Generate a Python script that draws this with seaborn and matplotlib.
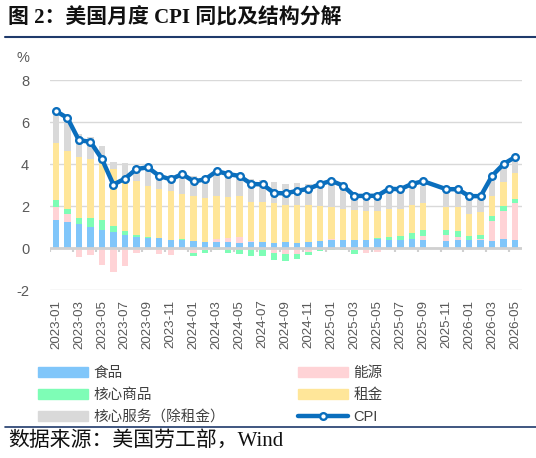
import matplotlib.pyplot as plt
import seaborn as sns
import numpy as np
import pandas as pd
from matplotlib.lines import Line2D
from matplotlib.patches import Patch


sns.set_style("white")
plt.rcParams['font.family'] = ['Liberation Sans', 'Noto Sans CJK SC', 'DejaVu Sans']
plt.rcParams['axes.unicode_minus'] = False

nan = np.nan

# 2023-01 .. 2026-05, 2025-10 missing
months = pd.period_range('2023-01', '2026-05', freq='M').strftime('%Y-%m').tolist()

food = [1.35, 1.25, 1.16, 1.01, 0.87, 0.78, 0.63, 0.54, 0.50, 0.46,
        0.40, 0.37, 0.33, 0.28, 0.30, 0.30, 0.25, 0.30, 0.30, 0.24,
        0.30, 0.24, 0.29, 0.35, 0.37, 0.37, 0.40, 0.37, 0.43, 0.40,
        0.40, 0.44, 0.40, nan, 0.35, 0.40, 0.40, 0.40, 0.35, 0.44, 0.40]
energy = [0.60, 0.38, -0.45, -0.35, -0.79, -1.16, -0.87, -0.25, -0.10, -0.28,
          -0.32, -0.10, -0.24, -0.10, 0.13, 0.20, 0.27, 0.05, 0.00, -0.24,
          -0.28, -0.30, -0.20, 0.00, 0.05, 0.00, -0.10, -0.25, -0.20, -0.08,
          -0.05, -0.03, 0.19, nan, 0.28, 0.12, -0.11, 0.04, 0.92, 1.34, 1.74]
core_goods = [0.35, 0.24, 0.28, 0.43, 0.48, 0.28, 0.20, 0.06, 0.02, 0.00,
              0.00, 0.06, -0.16, -0.14, -0.10, -0.24, -0.30, -0.37, -0.37, -0.35,
              -0.35, -0.20, -0.12, -0.16, -0.10, -0.10, -0.18, 0.03, 0.03, 0.12,
              0.19, 0.27, 0.28, nan, 0.24, 0.30, 0.19, 0.19, 0.24, 0.20, 0.21]
rent = [2.70, 2.76, 2.88, 2.80, 2.70, 2.72, 2.61, 2.57, 2.45, 2.35,
        2.30, 2.16, 2.16, 2.08, 2.06, 1.94, 1.97, 1.85, 1.90, 1.92,
        1.76, 1.82, 1.77, 1.63, 1.53, 1.47, 1.42, 1.38, 1.32, 1.35,
        1.28, 1.32, 1.27, nan, 1.06, 1.11, 1.04, 1.07, 0.98, 1.15, 1.22]
core_services = [1.35, 1.40, 1.11, 1.04, 0.82, 0.33, 0.62, 0.72, 0.68, 0.63,
                 0.79, 0.90, 0.95, 1.05, 1.03, 1.06, 1.08, 1.08, 1.04, 1.00,
                 1.00, 1.04, 0.98, 1.10, 1.22, 1.16, 0.80, 0.77, 0.84, 0.94,
                 0.78, 0.91, 0.80, nan, 0.69, 0.69, 0.70, 0.63, 0.68, 0.73, 0.63]
cpi = [6.52, 6.19, 5.13, 5.06, 4.24, 3.02, 3.30, 3.76, 3.84, 3.43,
       3.27, 3.52, 3.17, 3.27, 3.66, 3.52, 3.43, 3.05, 3.03, 2.62,
       2.60, 2.72, 2.82, 3.04, 3.20, 2.97, 2.48, 2.48, 2.49, 2.82,
       2.80, 3.05, 3.18, nan, 2.80, 2.80, 2.47, 2.47, 3.44, 4.00, 4.33]

c_food = '#80C6FA'
c_energy = '#FFD3D6'
c_goods = '#7EFDB6'
c_rent = '#FFE699'
c_svc = '#D9D9D9'
c_cpi = '#0A6EBD'
navy = '#1F3A6B'

df = pd.DataFrame({'food': food, 'energy': energy, 'goods': core_goods,
                   'rent': rent, 'svc': core_services}).fillna(0)
e_pos, e_neg = df['energy'].clip(lower=0), df['energy'].clip(upper=0)
g_pos, g_neg = df['goods'].clip(lower=0), df['goods'].clip(upper=0)

layers = [
    (df['food'], 0, c_food),
    (e_pos, df['food'], c_energy),
    (e_neg, 0, c_energy),
    (g_pos, df['food'] + e_pos, c_goods),
    (g_neg, e_neg, c_goods),
    (df['rent'], df['food'] + e_pos + g_pos, c_rent),
    (df['svc'], df['food'] + e_pos + g_pos + df['rent'], c_svc),
]

fig = plt.figure(figsize=(5.36, 4.58), dpi=100)
ax = fig.add_axes([50 / 536, 1 - 290 / 458, 472 / 536, 210 / 458])

for h, b, c in layers:
    sns.barplot(x=months, y=np.asarray(h), bottom=np.asarray(b) if np.ndim(b) else b,
                order=months, color=c, saturation=1, width=0.56,
                errorbar=None, linewidth=0, ax=ax, zorder=2)

ax.axhline(0, color='#D0D0D0', lw=2, zorder=2.5)
ax.vlines(np.arange(-0.5, 40, 2), -0.17, 0, color='#D0D0D0', lw=1.5, zorder=2.5)

sns.lineplot(x=months, y=cpi, ax=ax, color=c_cpi, lw=3.2, marker='o',
             markersize=4.8, markerfacecolor='white', markeredgecolor=c_cpi,
             markeredgewidth=1.7, zorder=4, legend=False)

ax.set_ylim(-2, 8)
ax.set_xlim(-0.52, 40.6)
ax.set_yticks([-2, 0, 2, 4, 6, 8])
ax.set_xticks(range(0, len(months), 2))
ax.set_xticklabels(months[::2], rotation=90)
ax.yaxis.grid(True, color='#D9D9D9', lw=1)
ax.set_axisbelow(True)
ax.tick_params(axis='both', length=0, colors='#595959')
ax.tick_params(axis='x', labelsize=9.6, pad=7)
ax.tick_params(axis='y', labelsize=10.5, pad=15)
ax.set_xlabel('')
ax.set_ylabel('')
sns.despine(ax=ax, left=True, bottom=True)

fig.text(23 / 536, 1 - 58 / 458, '%', fontsize=10.5, color='#595959',
         ha='center', va='center')

fig.text(8 / 536, 1 - 18 / 458, '图 2：美国月度 CPI 同比及结构分解',
         fontsize=15, fontweight='bold', va='center', color='#111111',
         family=['Liberation Serif', 'Noto Sans CJK SC'])
fig.text(8 / 536, 1 - 441 / 458, '数据来源：美国劳工部，Wind',
         fontsize=15, va='center', color='#111111',
         family=['Liberation Serif', 'Noto Sans CJK SC'])
fig.add_artist(Line2D([5 / 536, 1], [1 - 37 / 458] * 2, transform=fig.transFigure,
                      color=navy, lw=1.5))
fig.add_artist(Line2D([5 / 536, 1], [1 - 427 / 458] * 2, transform=fig.transFigure,
                      color=navy, lw=1.2))

leg_kw = dict(loc='upper left', frameon=False, fontsize=10.5, handlelength=3.4,
              handleheight=0.65, handletextpad=0.4, labelspacing=0.55,
              borderpad=0, borderaxespad=0, labelcolor='#404040')
h1 = [Patch(color=c_food), Patch(color=c_goods), Patch(color=c_svc)]
h2 = [Patch(color=c_energy), Patch(color=c_rent),
      Line2D([], [], color=c_cpi, lw=3.2, marker='o', markersize=4.8,
             markerfacecolor='white', markeredgecolor=c_cpi, markeredgewidth=1.7)]
fig.legend(h1, ['食品', '核心商品', '核心服务（除租金）'],
           bbox_to_anchor=(38 / 536, 1 - 366 / 458), **leg_kw)
fig.legend(h2, ['能源', '租金', 'CPI'],
           bbox_to_anchor=(298 / 536, 1 - 366 / 458), **leg_kw)

fig.savefig('out.png', dpi=100)
